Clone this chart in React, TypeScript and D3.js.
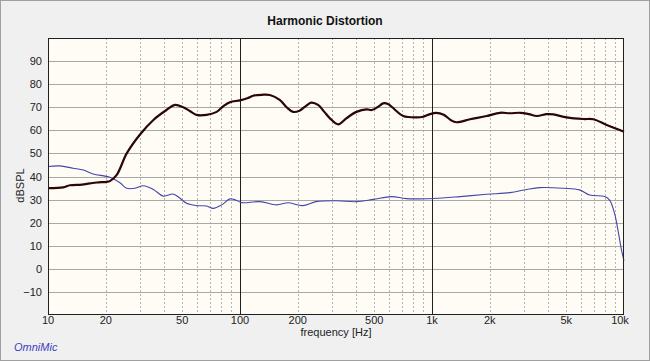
import { useEffect, useRef } from "react";
import * as d3 from "d3";

// black curve (fundamental)
const fundFreq = [10, 12, 13, 15, 16.5, 18, 20.2, 21, 22.8, 25.7, 30, 35.4, 41.4, 45.8, 50.6, 55, 59.4, 67, 75.6, 82, 88.6, 100, 110, 117, 130, 143, 161, 175, 189, 204, 220, 235, 255, 275, 294, 325, 358, 404, 457, 486, 530, 556, 590, 640, 708, 832, 901, 975, 1050, 1150, 1250, 1339, 1580, 1926, 2260, 2550, 2880, 3200, 3510, 3960, 4290, 5025, 6140, 6930, 8130, 10000];
const fundDb = [35, 35.3, 36.2, 36.5, 37, 37.4, 37.7, 38, 40.7, 50, 58, 64.5, 68.8, 71, 70, 68.3, 66.7, 66.7, 68, 70.5, 72.2, 73, 74, 75, 75.4, 75.3, 73.2, 70, 68, 68.5, 70.5, 72, 71, 68, 65.2, 62.6, 65.2, 68, 69.1, 68.8, 70.5, 71.7, 71.4, 69, 66.2, 65.6, 65.9, 67, 67.6, 66.8, 64.5, 63.5, 64.8, 66.2, 67.6, 67.4, 67.6, 67, 66.2, 67, 66.9, 65.6, 64.9, 64.8, 62.3, 59.4];

// blue curve (2nd harmonic)
const h2Freq = [10, 11.5, 13.5, 15.3, 17.2, 21, 23.7, 25.7, 28.4, 31.4, 35.4, 39.8, 44.8, 48, 52.7, 59.4, 67, 72.6, 80.3, 88.6, 95, 102, 127, 155, 178, 212, 249, 318, 404, 495, 616, 735, 1016, 1400, 1926, 2550, 3110, 3640, 4830, 5870, 6620, 7930, 8420, 8930, 9300, 9700, 10000];
const h2Db = [44.3, 44.6, 43.6, 42.8, 41.1, 39.7, 37.3, 34.9, 34.9, 36, 34.4, 31.5, 32.4, 31, 28.4, 27.4, 27.2, 26.2, 27.7, 30.3, 29.8, 28.7, 29.1, 27.7, 28.6, 27.4, 29.1, 29.5, 29.1, 30.1, 31.3, 30.4, 30.5, 31.3, 32.3, 33, 34.4, 35.2, 34.9, 34.2, 32, 31.3, 29.8, 24, 16.8, 8.2, 3.5];

const yTicks = [-10, 0, 10, 20, 30, 40, 50, 60, 70, 80, 90];
const xLabels = [10, 20, 50, 100, 200, 500, 1000, 2000, 5000, 10000];
const xLabelText = ["10", "20", "50", "100", "200", "500", "1k", "2k", "5k", "10k"];
const decades = [10, 100, 1000];

export default function App() {
  const ref = useRef<SVGSVGElement>(null);

  useEffect(() => {
    if (!ref.current) return;
    const svg = d3.select(ref.current);
    svg.selectAll("*").remove();

    const W = 650;
    const H = 361;
    const left = 48, right = 624, top = 38, bottom = 315;
    const font = "'Liberation Sans', Arial, sans-serif";

    const x = d3.scaleLog().domain([10, 10000]).range([left, right]);
    const y = d3.scaleLinear().domain([-20, 100]).range([bottom, top]);

    // frame
    svg.append("rect").attr("x", 0.5).attr("y", 0.5).attr("width", W - 1).attr("height", H - 1)
      .attr("fill", "#f0f0f0").attr("stroke", "#a0a0a0");

    svg.append("rect").attr("x", left).attr("y", top).attr("width", right - left).attr("height", bottom - top)
      .attr("fill", "#fffcf6");

    // minor vertical grid (dotted)
    const minor: number[] = [];
    decades.forEach((d) => {
      for (let k = 2; k <= 9; k++) minor.push(d * k);
    });
    svg.append("g").selectAll("line").data(minor).enter().append("line")
      .attr("x1", (d) => Math.round(x(d)) + 0.5).attr("x2", (d) => Math.round(x(d)) + 0.5)
      .attr("y1", top).attr("y2", bottom)
      .attr("stroke", "#b4b4b4").attr("stroke-dasharray", "2,2");

    // horizontal grid
    svg.append("g").selectAll("line").data(yTicks).enter().append("line")
      .attr("x1", left).attr("x2", right)
      .attr("y1", (d) => Math.round(y(d)) + 0.5).attr("y2", (d) => Math.round(y(d)) + 0.5)
      .attr("stroke", "#a8a8a8");

    // decade lines
    svg.append("g").selectAll("line").data([100, 1000]).enter().append("line")
      .attr("x1", (d) => Math.round(x(d)) + 0.5).attr("x2", (d) => Math.round(x(d)) + 0.5)
      .attr("y1", top).attr("y2", bottom)
      .attr("stroke", "#202020");

    // curves
    const line = d3.line<[number, number]>()
      .x((d) => x(d[0]))
      .y((d) => y(d[1]))
      .curve(d3.curveCatmullRom.alpha(0.5));

    svg.append("path")
      .datum(h2Freq.map((f, i) => [f, h2Db[i]] as [number, number]))
      .attr("d", line)
      .attr("fill", "none").attr("stroke", "#4646aa").attr("stroke-width", 1.1);

    svg.append("path")
      .datum(fundFreq.map((f, i) => [f, fundDb[i]] as [number, number]))
      .attr("d", line)
      .attr("fill", "none").attr("stroke", "#2a0606").attr("stroke-width", 2.2);

    // plot border
    svg.append("rect").attr("x", left + 0.5).attr("y", top + 0.5)
      .attr("width", right - left - 1).attr("height", bottom - top - 1)
      .attr("fill", "none").attr("stroke", "#202020");

    // y labels
    svg.append("g").selectAll("text").data(yTicks).enter().append("text")
      .attr("x", left - 6).attr("y", (d) => y(d) + 4)
      .attr("text-anchor", "end").attr("font-family", font).attr("font-size", 11)
      .attr("fill", "#222")
      .text((d) => (d < 0 ? "\u2212" + Math.abs(d) : String(d)));

    // x labels
    svg.append("g").selectAll("text").data(xLabels).enter().append("text")
      .attr("x", (d, i) => x(d) + (i === xLabels.length - 1 ? -4 : 0)).attr("y", bottom + 9)
      .attr("text-anchor", "middle").attr("font-family", font).attr("font-size", 11)
      .attr("fill", "#222")
      .text((_d, i) => xLabelText[i]);

    svg.append("text").attr("x", 336).attr("y", bottom + 21)
      .attr("text-anchor", "middle").attr("font-family", font).attr("font-size", 11)
      .attr("fill", "#222").text("frequency [Hz]");

    svg.append("text")
      .attr("transform", `translate(24,${(top + bottom) / 2 + 9}) rotate(-90)`)
      .attr("text-anchor", "middle").attr("font-family", font).attr("font-size", 11)
      .attr("fill", "#222").text("dBSPL");

    svg.append("text").attr("x", 325).attr("y", 25)
      .attr("text-anchor", "middle").attr("font-family", font).attr("font-size", 12)
      .attr("font-weight", "bold").attr("fill", "#111").text("Harmonic Distortion");

    svg.append("text").attr("x", 14).attr("y", 351)
      .attr("font-family", font).attr("font-size", 11).attr("font-style", "italic")
      .attr("fill", "#4040c0").text("OmniMic");
  }, []);

  return (
    <svg
      ref={ref}
      width={650}
      height={361}
      style={{ position: "absolute", left: 0, top: 0 }}
    />
  );
}
